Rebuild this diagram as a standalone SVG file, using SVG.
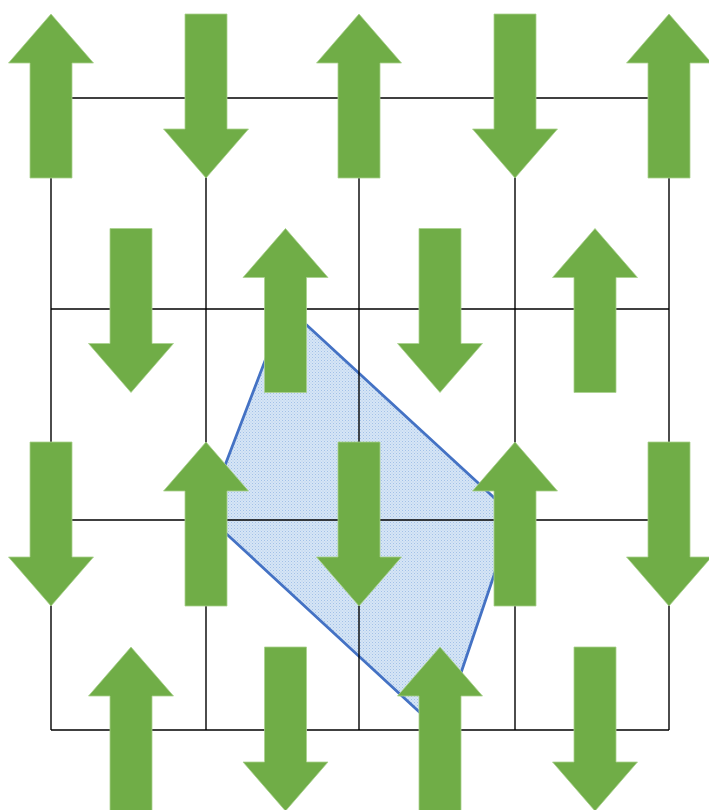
<svg xmlns="http://www.w3.org/2000/svg" xmlns:xlink="http://www.w3.org/1999/xlink" width="709" height="810" viewBox="0 0 709 810">
<style>
.grid line{stroke:#000;stroke-width:1.4}
.arrow{fill:#70ad47;stroke:#a9d18e;stroke-width:0.8}
.region{fill:url(#dots);stroke:#4472c4;stroke-width:2.8;stroke-linejoin:round}
</style>
<defs>
<pattern id="dots" width="3" height="3" patternUnits="userSpaceOnUse">
<rect width="3" height="3" fill="#d6e5f5"/>
<rect width="1" height="1" fill="#a2c1e8"/>
<rect x="1.5" y="1.5" width="1" height="1" fill="#b4cdee"/>
</pattern>
<path id="up" d="M0,0 L42.5,49 L21,49 L21,164 L-21,164 L-21,49 L-42.5,49 Z"/>
<path id="down" d="M0,164 L42.5,115 L21,115 L21,0 L-21,0 L-21,115 L-42.5,115 Z"/>
</defs>
<rect width="709" height="810" fill="#fff"/>
<g id="region"><polygon class="region" points="286,306 514,516 441,732 206,515"/></g>
<g id="connectors" class="grid">
<line x1="51" y1="98" x2="669" y2="98"/>
<line x1="51" y1="309" x2="669" y2="309"/>
<line x1="51" y1="520" x2="669" y2="520"/>
<line x1="51" y1="730" x2="669" y2="730"/>
<line x1="51" y1="98" x2="51" y2="730"/>
<line x1="206" y1="98" x2="206" y2="730"/>
<line x1="359" y1="98" x2="359" y2="730"/>
<line x1="515" y1="98" x2="515" y2="730"/>
<line x1="669" y1="98" x2="669" y2="730"/>
</g>
<g id="a11"><use href="#up" class="arrow" x="51" y="14"/></g>
<g id="a12"><use href="#down" class="arrow" x="206" y="14"/></g>
<g id="a13"><use href="#up" class="arrow" x="359" y="14"/></g>
<g id="a14"><use href="#down" class="arrow" x="515" y="14"/></g>
<g id="a15"><use href="#up" class="arrow" x="669" y="14"/></g>
<g id="a21"><use href="#down" class="arrow" x="131" y="228.5"/></g>
<g id="a22"><use href="#up" class="arrow" x="285.5" y="228.5"/></g>
<g id="a23"><use href="#down" class="arrow" x="440" y="228.5"/></g>
<g id="a24"><use href="#up" class="arrow" x="595" y="228.5"/></g>
<g id="a31"><use href="#down" class="arrow" x="51" y="442"/></g>
<g id="a32"><use href="#up" class="arrow" x="206" y="442"/></g>
<g id="a33"><use href="#down" class="arrow" x="359" y="442"/></g>
<g id="a34"><use href="#up" class="arrow" x="515" y="442"/></g>
<g id="a35"><use href="#down" class="arrow" x="669" y="442"/></g>
<g id="a41"><use href="#up" class="arrow" x="131" y="647"/></g>
<g id="a42"><use href="#down" class="arrow" x="285.5" y="647"/></g>
<g id="a43"><use href="#up" class="arrow" x="440" y="647"/></g>
<g id="a44"><use href="#down" class="arrow" x="595" y="647"/></g>
</svg>
